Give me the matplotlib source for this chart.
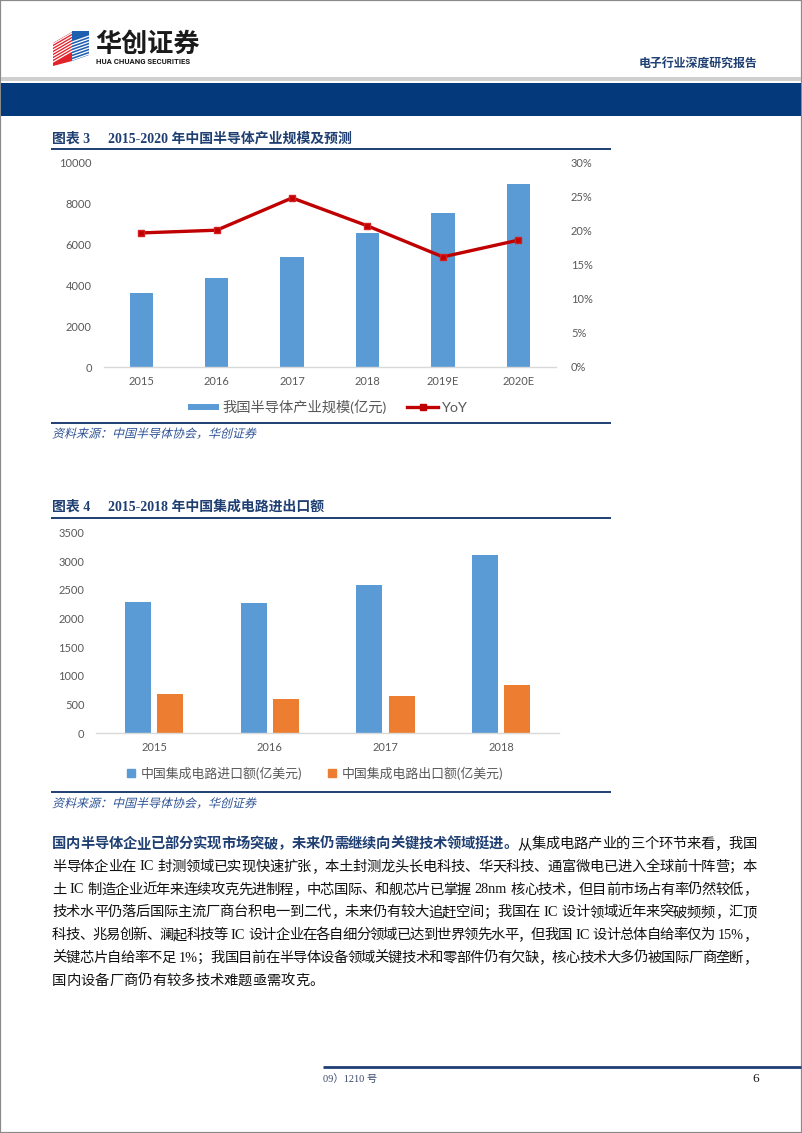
import re
import numpy as np
import matplotlib
matplotlib.use('Agg')
import matplotlib.pyplot as plt
from matplotlib.lines import Line2D
from matplotlib.patches import Rectangle, Polygon, PathPatch
from matplotlib.textpath import TextPath
from matplotlib.font_manager import FontProperties
from matplotlib.transforms import Affine2D, IdentityTransform
from matplotlib.ticker import PercentFormatter

W, H = 802, 1133

# ---- data ----
years1 = ['2015', '2016', '2017', '2018', '2019E', '2020E']
scale1 = [3595, 4327, 5380, 6522, 7546, 8960]
yoy1 = [0.1965, 0.2005, 0.2478, 0.2068, 0.1614, 0.1859]

years2 = ['2015', '2016', '2017', '2018']
imports2 = [2293, 2265, 2584, 3112]
exports2 = [685, 602, 654, 840]

title1 = ['图表 3', '2015-2020 年中国半导体产业规模及预测']
title2 = ['图表 4', '2015-2018 年中国集成电路进出口额']
legend1 = ['我国半导体产业规模(亿元)', 'YoY']
legend2 = ['中国集成电路进口额(亿美元)', '中国集成电路出口额(亿美元)']
source = '资料来源：中国半导体协会，华创证券'

para_bold = '国内半导体企业已部分实现市场突破，未来仍需继续向关键技术领域挺进。'
para_lines = [
    '从集成电路产业的三个环节来看，我国',
    '半导体企业在IC封测领域已实现快速扩张，本土封测龙头长电科技、华天科技、通富微电已进入全球前十阵营；本',
    '土IC制造企业近年来连续攻克先进制程，中芯国际、和舰芯片已掌握28nm核心技术，但目前市场占有率仍然较低，',
    '技术水平仍落后国际主流厂商台积电一到二代，未来仍有较大追赶空间；我国在IC设计领域近年来突破频频，汇顶',
    '科技、兆易创新、澜起科技等IC设计企业在各自细分领域已达到世界领先水平，但我国IC设计总体自给率仅为15%，',
    '关键芯片自给率不足1%；我国目前在半导体设备领域关键技术和零部件仍有欠缺，核心技术大多仍被国际厂商垄断，',
    '国内设备厂商仍有较多技术难题亟需攻克。',
]

NAVY = '#1F3F73'
BAR_BLUE = '#5B9BD5'
BAR_ORANGE = '#ED7D31'
LINE_RED = '#C00000'
TICK = '#595959'
CJK = 'Noto Sans CJK SC'
PUNCT = '，。；、：'

plt.rcParams['font.family'] = ['Lato', CJK, 'DejaVu Sans']

fig = plt.figure(figsize=(W / 100, H / 100), dpi=100)
renderer = fig.canvas.get_renderer()


def fx(x):
    return x / W


def fy(y):
    return 1 - y / H


def frect(x0, y0, x1, y1):
    return [x0 / W, 1 - y1 / H, (x1 - x0) / W, (y1 - y0) / H]


def hline(y, x0, x1, color, lw):
    fig.add_artist(Line2D([fx(x0), fx(x1)], [fy(y), fy(y)], color=color, lw=lw,
                          transform=fig.transFigure, solid_capstyle='butt'))


def poly(pts, color):
    p = Polygon([(fx(a), fy(b)) for a, b in pts], closed=True, fc=color, ec='none',
                transform=fig.transFigure)
    fig.add_artist(p)
    return p


def skew_text(x, y, s, size_px, color):
    tp = TextPath((0, 0), s, size=size_px, prop=FontProperties(family=CJK))
    tr = Affine2D().skew_deg(14, 0).translate(x, H - y)
    fig.add_artist(PathPatch(tr.transform_path(tp), fc=color, ec='none',
                             transform=IdentityTransform()))


# ---- page frame and header ----
fig.add_artist(Rectangle((0, 0), 1, 1, transform=fig.transFigure, fill=False,
                         ec='#8A8A8A', lw=1.6))
fig.add_artist(Rectangle((fx(1), fy(81)), fx(800), 4 / H, transform=fig.transFigure,
                         fc='#CFCFCF', ec='none'))
fig.add_artist(Rectangle((fx(1), fy(116)), fx(800), 33 / H, transform=fig.transFigure,
                         fc='#043A7B', ec='none'))

# logo: red left face, blue right face, white diagonal stripes
red_face = poly([(53, 43), (72, 32), (72, 61), (53, 66)], '#E2232A')
blue_face = poly([(72, 31), (89, 31), (89, 55), (72, 61)], '#1F5FAF')
for k in range(7):
    d = k * 3.0
    ln = Line2D([fx(53), fx(72)], [fy(44 + d), fy(33 + d)], color='white', lw=0.9,
                transform=fig.transFigure)
    ln.set_clip_path(red_face)
    fig.add_artist(ln)
    ln2 = Line2D([fx(72), fx(89)], [fy(60 - d), fy(54 - d)], color='white', lw=0.9,
                 transform=fig.transFigure)
    ln2.set_clip_path(blue_face)
    fig.add_artist(ln2)

fig.text(fx(95), fy(44), '华创证券', family=CJK, weight='bold', fontsize=18.8,
         color='#1A1A1A', va='center', ha='left')
fig.text(fx(96), fy(61.5), 'HUA CHUANG SECURITIES', family='Roboto', weight='bold',
         fontsize=5.6, color='#1A1A1A', va='center', ha='left')
fig.text(fx(757), fy(63.5), '电子行业深度研究报告', family=CJK, weight='bold',
         fontsize=8.6, color=NAVY, va='center', ha='right')


def chart_title(y, parts):
    fig.text(fx(52), fy(y), parts[0], family=['Liberation Serif', CJK], weight='bold',
             fontsize=10, color=NAVY, va='center', ha='left')
    fig.text(fx(108), fy(y), parts[1], family=['Liberation Serif', CJK], weight='bold',
             fontsize=10, color=NAVY, va='center', ha='left')


def style_axis(ax):
    for s in ['top', 'right', 'left']:
        ax.spines[s].set_visible(False)
    ax.spines['bottom'].set_color('#D9D9D9')
    ax.spines['bottom'].set_linewidth(1.0)
    ax.tick_params(length=0, labelsize=8, labelcolor=TICK)
    ax.tick_params(axis='y', pad=8.6)
    ax.tick_params(axis='x', pad=6.5)


# ---- chart 3 ----
chart_title(139, title1)
hline(149, 51, 611, NAVY, 1.4)

ax1 = fig.add_axes(frect(103.6, 162.3, 556, 367))
x1 = np.arange(len(years1))
ax1.bar(x1, scale1, width=0.31, color=BAR_BLUE, zorder=2)
ax1.set_xlim(-0.5, len(years1) - 0.5)
ax1.set_ylim(0, 10000)
ax1.set_yticks(range(0, 10001, 2000))
ax1.set_xticks(x1)
ax1.set_xticklabels(years1)
style_axis(ax1)

ax1b = ax1.twinx()
ax1b.plot(x1, yoy1, color=LINE_RED, lw=2.4, marker='s', ms=5, mfc=LINE_RED, mec='#D42020',
          zorder=3)
ax1b.set_ylim(0, 0.30)
ax1b.set_yticks(np.arange(0, 0.301, 0.05))
ax1b.yaxis.set_major_formatter(PercentFormatter(1.0, decimals=0))
for s in ['top', 'right', 'left', 'bottom']:
    ax1b.spines[s].set_visible(False)
ax1b.tick_params(length=0, labelsize=8, labelcolor=TICK, pad=10.8)

h1 = [Line2D([], [], color=BAR_BLUE, lw=4.3, solid_capstyle='butt'),
      Line2D([], [], color=LINE_RED, lw=2.4, marker='s', ms=5, mfc=LINE_RED)]
fig.legend(h1, legend1, loc='center', bbox_to_anchor=(fx(328), fy(406.7)), ncol=2,
           frameon=False, handlelength=2.15, handletextpad=0.3,
           columnspacing=1.4, labelcolor=TICK, prop={'family': ['Lato', CJK], 'size': 10.3})

hline(422.7, 51, 611, NAVY, 1.4)
skew_text(52, 437.6, source, 12, '#2F5496')

# ---- chart 4 ----
chart_title(507, title2)
hline(518, 51, 611, NAVY, 1.4)

ax2 = fig.add_axes(frect(96.4, 532.4, 559, 733.3))
x2 = np.arange(len(years2))
ax2.bar(x2 - 0.14, imports2, width=0.225, color=BAR_BLUE, zorder=2)
ax2.bar(x2 + 0.14, exports2, width=0.225, color=BAR_ORANGE, zorder=2)
ax2.set_xlim(-0.5, len(years2) - 0.5)
ax2.set_ylim(0, 3500)
ax2.set_yticks(range(0, 3501, 500))
ax2.set_xticks(x2)
ax2.set_xticklabels(years2)
style_axis(ax2)

h2 = [Line2D([], [], ls='none', marker='s', ms=5.5, color=BAR_BLUE),
      Line2D([], [], ls='none', marker='s', ms=5.5, color=BAR_ORANGE)]
fig.legend(h2, legend2, loc='center', bbox_to_anchor=(fx(315), fy(773)), ncol=2,
           frameon=False, handlelength=0.7, handletextpad=0.4, columnspacing=2.0,
           labelcolor=TICK, prop={'family': ['Lato', CJK], 'size': 9.3})

hline(791.7, 51, 611, NAVY, 1.4)
skew_text(52, 807.3, source, 12, '#2F5496')

# ---- paragraph (justified, one token per glyph) ----
PFS = 10.3
EM = PFS * 100 / 72


def para_line(y, parts, x0=52, x1=757, justify=True):
    toks = []
    for s, bold in parts:
        for tk in re.findall(r'[A-Za-z0-9%.]+|\S', s):
            toks.append((tk, bold))
    arts, widths, latin = [], [], []
    for tk, bold in toks:
        is_lat = tk.isascii()
        t = fig.text(0, fy(y), tk, fontsize=PFS,
                     family=['Liberation Serif'] if is_lat else [CJK],
                     weight='bold' if bold else 'normal',
                     color=NAVY if bold else '#111111', va='center', ha='left')
        arts.append(t)
        latin.append(is_lat)
        widths.append(t.get_window_extent(renderer).width if is_lat else EM)
    gaps = []
    for i in range(len(toks) - 1):
        nxt = toks[i + 1][0]
        if (latin[i] or latin[i + 1]) and nxt not in PUNCT:
            gaps.append(0.28 * EM)
        else:
            gaps.append(0.0)
    natural = sum(widths) + sum(gaps)
    extra = (x1 - x0 - natural) / max(len(toks) - 1, 1) if justify else 0.0
    x = x0
    for i, t in enumerate(arts):
        t.set_x(fx(x))
        if i < len(gaps):
            x += widths[i] + gaps[i] + extra


y0 = 844
step = 22.8
para_line(y0, [(para_bold, True), (para_lines[0], False)])
for i, s in enumerate(para_lines[1:], start=1):
    para_line(y0 + i * step, [(s, False)], justify=(i < len(para_lines) - 1))

# ---- footer ----
hline(1067, 323, 801, '#1F3F73', 2.0)
fig.text(fx(323), fy(1079), '09）1210 号', family=['Liberation Serif', CJK], fontsize=7.5,
         color='#3A4A6A', va='center', ha='left')
fig.text(fx(756), fy(1079), '6', family='Liberation Serif', fontsize=9.5,
         color='#1A1A1A', va='center', ha='center')

fig.savefig('out.png', dpi=100)
